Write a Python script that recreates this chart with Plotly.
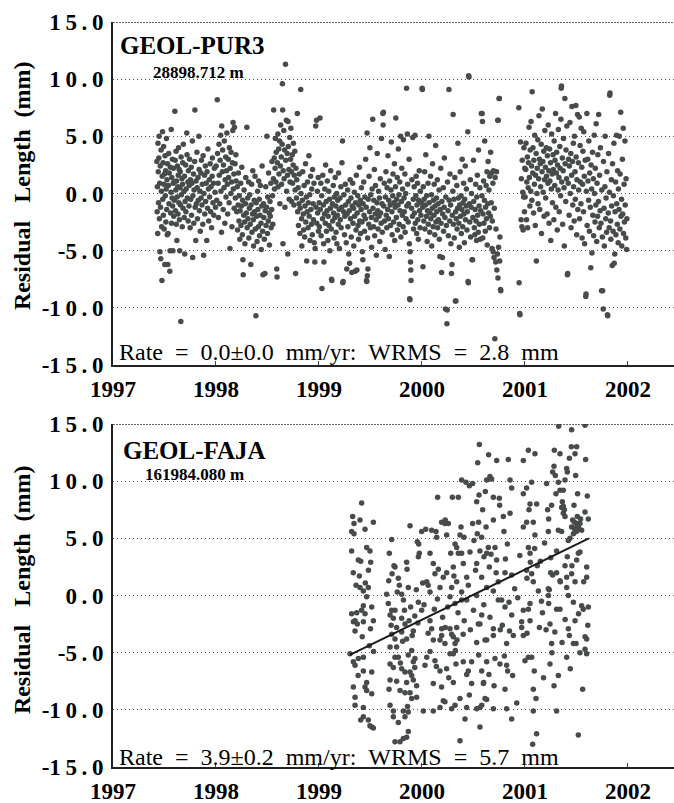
import plotly.graph_objects as go

# ---------------- data: GEOL-PUR3 (day-of-year, residual mm) ----------------
pur3_1997 = [
(156,2.8),(157,-1.6),(158,0.6),(159,-3.5),(160,4.4),(161,1.9),(162,-0.8),(163,3.1),(164,5.0),(165,-2.2),(166,0.9),(167,-5.1),(168,2.4),(169,-1.2),(170,-5.7),(171,3.8),(172,0.2),(173,-2.9),(174,-7.6),(175,1.5),(176,5.4),(177,-0.5),(178,2.7),(179,-1.9),(180,4.1),(181,0.8),(182,-3.1),(183,1.7),(184,-6.2),(185,3.3),(186,-0.2),(187,2.0),(188,-2.5),(189,0.4),(190,4.8),(191,-1.4),(192,1.2),(193,-3.6),(194,2.6),(195,-6.2),(196,-3.5),(197,0.7),(198,3.5),(199,-0.9),(200,1.8),(202,-6.8),(203,-5.0),(204,2.3),(205,-1.7),(206,0.1),(207,5.6),(208,-2.6),(209,1.4),(210,-0.4),(211,3.0),(212,-1.1),(213,-5.0),(214,0.9),(215,2.2),(216,-2.0),(217,1.0),(218,-0.6),(220,7.2),(221,2.9),(222,-1.5),(223,0.3),(224,3.7),(225,-2.7),(226,1.1),(227,-4.1),(228,-0.3),(229,2.4),(230,0.6),(231,-1.8),(232,1.6),(233,4.0),(234,-0.8),(235,2.1),(236,-2.3),(237,-5.0),(238,0.5),(239,1.9),(240,-1.0),(241,-11.2),(242,3.2),(243,-0.1),(245,1.3),(246,-2.9),(247,0.8),(248,2.7),(249,-1.3),(250,4.3),(252,0.2),(253,-2.1),(254,1.5),(255,-5.3),(256,-0.7),(258,2.5),(259,-1.6),(260,0.4),(262,5.3),(263,3.4),(264,-0.4),(266,1.0),(267,-2.4),(268,2.0),(270,-1.1),(271,0.7),(272,3.0),(274,-3.0),(275,1.2),(276,-0.5),(278,2.3),(279,-1.9),(280,0.9),(282,4.6),(283,-5.6),(284,-0.2),(286,1.7),(287,-2.6),(288,0.3),(290,2.8),(291,7.3),(292,-1.2),(294,-4.1),(295,1.1),(296,-0.9),(298,3.6),(299,0.5),(300,-2.2),(302,1.4),(303,-0.6),(305,5.0),(306,2.1),(307,-1.5),(309,0.2),(310,-3.3),(312,1.8),(313,-0.4),(314,2.9),(316,-1.0),(317,0.8),(319,-2.7),(320,3.3),(322,-5.4),(323,0.0),(325,1.6),(326,-1.8),(328,2.4),(329,-0.7),(331,0.9),(333,-4.1),(334,1.9),(336,-1.3),(337,3.9),(339,0.4),(340,-2.4),(342,1.2),(343,-0.3),(345,2.6),(347,-1.6),(348,0.6),(350,-3.0),(352,1.5),(353,3.1),(355,-0.8),(357,0.9),(358,-1.9),(360,2.2),(362,0.1),(364,-1.2),
]
pur3_1998 = [
(1,2.4),(3,-0.6),(5,8.2),(6,3.5),(8,0.9),(9,-2.1),(11,4.3),(12,1.6),(14,-0.9),(15,2.9),(17,5.1),(18,0.2),(20,-3.4),(21,5.9),(23,1.9),(24,3.8),(26,-1.4),(27,2.5),(29,0.5),(30,4.6),(32,-2.6),(33,1.2),(35,3.2),(36,-0.3),(38,2.0),(39,5.3),(41,0.8),(42,-1.8),(44,3.0),(45,1.4),(47,-0.8),(48,4.0),(50,-4.8),(51,2.2),(53,0.0),(54,3.6),(56,1.0),(57,-2.9),(59,2.7),(60,5.5),(61,6.2),(62,0.4),(64,1.7),(65,-1.3),(66,5.8),(68,2.6),(69,-0.4),(71,3.4),(72,1.1),(74,-1.6),(76,0.6),(77,-3.2),(79,-1.0),(80,1.8),(82,-2.4),(83,-0.2),(85,-4.0),(86,-1.5),(88,0.9),(89,-2.8),(91,-1.1),(92,2.3),(94,-3.6),(95,-0.6),(96,-5.8),(97,-7.1),(99,-1.9),(100,0.3),(102,-2.5),(103,-4.4),(105,-0.9),(106,1.4),(108,-1.7),(110,5.8),(111,-3.0),(113,-0.4),(114,-2.2),(116,1.0),(117,-3.9),(119,-1.3),(120,-0.1),(122,-2.7),(124,-6.2),(125,-1.0),(127,0.8),(128,-3.4),(130,-1.8),(131,2.0),(133,-2.3),(134,-4.6),(136,-0.6),(137,-1.6),(139,1.5),(140,-3.1),(142,-10.7),(143,-0.8),(145,-2.0),(146,-4.2),(148,0.2),(149,-1.4),(151,-2.9),(152,1.1),(154,-0.5),(155,-3.7),(157,-1.9),(158,0.7),(160,-2.6),(161,-4.9),(163,-1.1),(164,2.4),(166,-3.3),(167,-7.1),(169,-0.9),(170,-2.1),(172,-4.0),(174,-7.0),(175,-1.5),(177,0.6),(178,-2.8),(180,-1.2),(181,5.0),(183,-3.5),(184,-0.3),(186,-2.4),(187,1.8),(189,-1.7),(190,-4.5),(192,-0.7),(193,-2.0),(195,0.9),(196,-3.0),(198,-1.4),(199,2.8),(201,-0.2),(202,-2.7),(204,1.3),(205,7.3),(207,3.1),(208,0.4),(210,2.2),(211,4.8),(213,1.0),(214,3.6),(216,-6.6),(217,-7.3),(218,2.7),(220,5.2),(221,0.6),(223,3.9),(224,1.7),(226,4.6),(227,-0.9),(229,2.4),(230,6.0),(232,3.2),(233,0.8),(235,4.3),(236,9.6),(237,7.3),(238,-4.4),(239,2.0),(241,5.5),(242,1.3),(244,3.8),(245,-1.2),(247,11.3),(248,2.9),(250,6.4),(251,0.2),(253,3.5),(254,1.6),(255,-5.3),(256,6.3),(257,4.1),(259,2.1),(260,-0.5),(262,4.9),(263,1.0),(265,3.0),(266,5.7),(268,1.9),(269,-0.7),(271,3.4),(272,0.9),(274,2.5),(275,4.4),(277,-1.0),(278,1.6),(280,3.7),(281,0.3),(283,-7.0),(284,2.2),(286,-0.4),(287,1.2),(289,7.0),(290,-1.6),(292,0.5),(293,-2.8),(295,-0.9),(296,1.7),(298,-3.5),(299,-1.3),(301,9.1),(302,0.0),(304,-2.2),(305,-4.6),(307,-0.6),(308,1.9),(310,-1.8),(311,-3.2),(313,0.7),(315,-3.8),(316,-1.1),(318,2.6),(319,-2.5),(321,-0.3),(322,-5.9),(324,-1.6),(325,1.0),(327,-3.0),(328,-0.8),(330,3.3),(331,-2.0),(333,-0.1),(334,-4.1),(336,1.5),(337,-1.4),(339,-2.7),(340,0.4),(342,-3.6),(343,2.1),(345,-0.9),(346,-2.3),(348,0.9),(349,-4.3),(351,-6.0),(352,-4.8),(354,5.9),(355,-1.2),(357,6.4),(358,-2.6),(360,0.2),(361,-1.7),(363,1.4),(364,-3.3),
]
pur3_1999 = [
(1,-0.8),(2,-2.9),(4,6.6),(5,-1.4),(7,0.9),(8,-3.7),(10,-0.2),(11,-8.3),(13,-2.2),(14,1.6),(16,-1.0),(17,-4.4),(18,-6.0),(20,-1.8),(21,0.4),(23,-2.6),(24,2.5),(26,-0.7),(27,-3.3),(29,-1.5),(30,1.1),(32,-4.1),(33,-2.0),(35,0.2),(36,-2.8),(38,-0.5),(39,-5.0),(41,-1.3),(42,2.0),(44,-3.1),(45,-7.5),(46,-7.6),(48,-0.9),(49,-2.4),(51,0.7),(52,-1.7),(54,-3.9),(55,-0.3),(57,-2.1),(58,1.4),(60,-1.1),(61,-3.4),(63,0.0),(64,-4.4),(66,-1.9),(67,-0.6),(69,-2.7),(70,1.8),(72,-1.4),(73,-4.8),(75,-0.4),(76,-2.3),(78,0.6),(79,-3.0),(81,-1.2),(82,2.7),(84,4.6),(85,-7.8),(86,-7.7),(88,-1.6),(89,-0.1),(91,-3.6),(92,-2.0),(94,0.8),(95,-1.0),(97,-4.3),(99,-6.6),(100,-1.8),(102,0.3),(103,-2.9),(105,-0.7),(106,-5.3),(108,-1.5),(109,-6.1),(111,1.2),(112,-2.2),(114,-0.4),(115,-3.8),(117,-6.9),(118,-1.1),(120,0.9),(121,-2.6),(123,-1.3),(124,-4.6),(126,0.1),(127,-2.0),(129,-6.8),(130,-0.8),(132,-3.2),(133,1.6),(135,-6.7),(136,-1.7),(138,-0.2),(139,-2.8),(141,-4.0),(142,-1.0),(144,2.3),(145,-2.4),(147,-0.6),(148,-3.5),(150,-1.4),(151,0.5),(153,-2.5),(154,-5.1),(156,-5.8),(157,-0.9),(159,1.0),(160,-1.9),(162,-3.3),(163,-0.3),(165,-2.2),(166,3.0),(168,-1.2),(169,-7.6),(170,-7.7),(171,5.3),(172,-7.2),(173,-3.9),(174,-6.6),(175,-0.5),(177,-2.7),(178,1.5),(180,-1.6),(181,4.0),(183,-3.0),(184,-0.1),(186,-2.1),(187,-4.7),(189,0.4),(191,6.5),(192,-1.3),(194,-2.9),(195,-0.6),(197,2.1),(198,-3.7),(200,-1.8),(201,0.7),(203,-2.3),(204,-5.4),(206,-0.8),(207,3.5),(209,-1.5),(210,-3.1),(212,0.2),(213,-2.0),(215,-0.4),(216,-4.2),(218,1.3),(219,-1.7),(221,-2.6),(222,4.8),(224,-0.9),(225,-3.4),(227,7.0),(228,6.0),(229,7.1),(230,-1.1),(232,0.9),(233,-2.4),(235,-4.9),(236,-0.3),(238,1.9),(239,-1.9),(241,-3.0),(242,0.5),(244,-1.4),(245,3.3),(247,-2.2),(248,-0.6),(250,-5.5),(251,1.1),(253,-1.0),(254,-2.8),(256,0.3),(257,4.5),(259,-1.6),(260,-3.6),(262,-0.2),(263,1.7),(265,-2.5),(266,-0.8),(268,2.6),(269,-4.1),(271,-1.2),(272,0.6),(273,6.6),(275,-2.1),(276,-0.5),(278,1.4),(279,-3.2),(281,-1.0),(282,3.9),(284,-0.1),(285,-2.7),(287,1.0),(288,-1.5),(290,5.0),(291,-3.8),(293,-0.7),(294,2.2),(296,-1.9),(297,0.4),(299,-2.9),(300,4.7),(302,-0.4),(303,-1.6),(305,1.7),(306,-3.4),(308,0.0),(309,-2.2),(311,9.2),(312,-1.1),(314,5.2),(315,0.8),(317,-2.5),(318,-0.9),(320,3.0),(321,-4.4),(322,-9.2),(323,-9.3),(324,-5.1),(325,-6.0),(326,-6.7),(327,-7.6),(329,-1.3),(330,1.2),(332,-2.0),(333,4.9),(335,-0.5),(336,-3.1),(338,0.6),(339,-1.7),(341,5.1),(342,-2.6),(344,-0.2),(345,1.5),(347,-3.5),(348,-1.0),(350,0.9),(351,-2.3),(353,-4.0),(354,-0.6),(356,2.0),(357,-1.5),(359,-3.0),(360,0.2),(362,-1.9),(363,-0.8),
]
pur3_2000 = [
(1,9.2),(2,9.1),(3,-1.2),(4,-6.4),(5,0.6),(7,-2.4),(8,-0.5),(10,1.9),(11,-3.1),(13,-1.0),(14,3.4),(16,-2.0),(17,-0.2),(19,-4.2),(20,-1.5),(22,0.9),(23,-2.7),(25,5.0),(26,-0.8),(28,-3.4),(29,-1.7),(31,1.5),(32,-2.2),(34,-0.1),(35,-4.6),(37,-1.3),(38,2.6),(40,-2.9),(41,-0.6),(43,-1.9),(44,0.8),(46,-3.6),(47,-1.1),(49,4.2),(50,-2.5),(52,-0.4),(53,-1.6),(55,1.2),(56,-3.0),(58,-0.9),(59,-2.3),(61,0.3),(62,-4.0),(64,-5.5),(65,-1.4),(67,2.2),(68,-2.6),(70,-6.9),(71,-0.7),(73,-5.6),(74,-1.8),(76,0.5),(77,-3.3),(79,-1.2),(80,3.1),(82,-2.1),(84,-10.1),(85,-0.3),(87,-2.8),(89,-11.4),(90,-10.2),(91,1.0),(93,-1.5),(94,-3.7),(96,9.1),(97,-0.6),(99,-2.4),(100,1.7),(102,-1.0),(103,-4.4),(105,-7.0),(107,-6.2),(108,-1.9),(110,0.2),(111,6.9),(112,-2.7),(114,-0.5),(115,-3.9),(117,1.4),(119,-9.4),(120,-1.6),(121,-9.4),(122,-2.2),(124,0.7),(125,-3.1),(127,-1.3),(128,4.4),(130,-0.4),(131,-2.6),(133,-4.7),(134,-1.0),(136,1.9),(137,-2.0),(139,-0.2),(140,-3.5),(142,-1.4),(143,3.0),(145,-2.9),(146,-0.8),(148,0.9),(149,-1.8),(151,-4.3),(152,-0.5),(154,2.4),(155,-2.3),(157,-1.1),(158,0.4),(160,-3.2),(161,-1.6),(163,5.4),(164,-7.7),(165,-7.8),(166,10.3),(167,10.2),(169,-0.9),(170,-2.5),(172,1.2),(173,-3.8),(175,-1.2),(176,0.0),(178,-5.8),(180,-5.8),(181,-2.1),(183,2.9),(184,-0.7),(186,-3.0),(188,-3.6),(189,-1.4),(191,0.8),(192,-2.4),(194,-4.1),(195,-0.3),(197,1.6),(198,-1.9),(200,-3.4),(201,3.8),(203,-1.1),(204,-2.7),(206,0.5),(207,-4.0),(209,-1.5),(211,7.0),(213,-0.2),(214,7.0),(215,6.3),(216,-3.9),(217,-1.8),(219,1.1),(220,-2.6),(222,-0.6),(223,4.6),(225,-3.3),(226,-1.2),(228,0.7),(229,-2.2),(231,1.9),(232,-4.5),(234,-0.9),(235,2.8),(237,-1.7),(238,0.3),(240,-3.0),(241,1.5),(243,-2.0),(244,3.6),(246,-0.8),(247,1.8),(249,-4.8),(250,-2.4),(252,0.9),(253,-5.1),(254,2.0),(256,-5.6),(257,-1.3),(259,-12.7),(260,1.4),(262,-6.0),(263,-3.1),(265,1.9),(266,-6.7),(268,-5.3),(269,6.4),(270,-7.4),(271,6.4),(272,-4.7),(274,8.3),(275,8.3),(276,-5.9),(277,-3.8),(279,-8.4),(280,-8.5),(344,7.5),(345,-7.8),(347,-10.5),(348,-10.6),(350,4.5),(352,-2.3),(353,1.3),(355,-2.9),(356,2.9),(358,0.1),(359,-3.2),(361,-0.3),(362,4.0),(364,-1.6),(365,2.2),
]
pur3_2001 = [
(1,-0.3),(3,2.1),(4,4.4),(6,-2.3),(7,1.0),(9,3.2),(10,-3.0),(12,0.5),(13,2.7),(15,5.8),(16,1.4),(18,-1.1),(19,3.8),(21,0.2),(22,6.3),(24,2.4),(25,-0.6),(26,8.9),(28,1.8),(29,4.0),(31,-1.7),(32,2.9),(34,0.8),(35,5.1),(37,-2.8),(38,1.6),(40,3.5),(41,-5.9),(43,0.0),(44,2.2),(46,4.7),(47,-0.9),(49,1.3),(50,6.8),(52,3.0),(53,-1.4),(55,2.6),(56,0.6),(58,4.3),(59,-3.5),(61,1.9),(62,7.4),(64,2.8),(65,0.1),(67,3.7),(68,-2.0),(70,1.2),(71,5.5),(73,2.3),(74,-0.4),(76,4.0),(77,1.5),(79,-1.8),(80,3.3),(82,0.9),(83,6.0),(85,2.0),(86,-2.6),(88,3.9),(89,1.1),(91,2.7),(92,-4.1),(94,0.4),(95,5.2),(97,1.7),(98,-0.8),(100,3.4),(101,2.1),(103,-2.3),(104,4.6),(106,0.7),(107,2.9),(109,7.0),(110,-1.2),(112,1.8),(113,3.6),(115,-3.2),(116,2.5),(118,0.3),(119,5.6),(121,1.4),(122,-1.6),(124,4.1),(125,2.2),(127,-0.2),(128,6.5),(129,9.2),(130,9.4),(131,1.0),(133,3.1),(134,-2.7),(136,2.0),(137,4.8),(139,0.5),(140,-4.6),(142,8.3),(143,2.6),(145,-0.7),(146,3.8),(148,1.3),(149,5.9),(151,-7.1),(152,-7.0),(154,0.9),(155,3.0),(157,-1.9),(158,2.4),(160,6.2),(161,0.0),(163,3.5),(164,-3.0),(166,1.6),(167,7.6),(169,2.8),(170,-1.0),(172,4.4),(173,0.6),(175,-2.4),(176,5.0),(178,1.9),(179,-0.5),(181,7.7),(182,3.2),(184,-3.6),(185,1.2),(187,6.9),(188,-1.4),(190,2.7),(191,0.3),(193,6.7),(194,-2.2),(196,4.2),(197,1.0),(199,-0.9),(200,5.7),(202,2.3),(203,-3.9),(205,0.8),(206,3.7),(208,-1.6),(209,5.4),(211,1.5),(212,-4.4),(214,2.9),(216,-9.0),(217,-8.8),(218,0.2),(220,7.0),(221,-2.8),(223,3.0),(224,1.1),(226,-0.6),(227,4.6),(229,-3.3),(230,1.8),(232,-1.2),(234,-6.5),(235,2.5),(237,0.4),(238,-5.2),(240,3.6),(241,-1.9),(243,1.3),(244,-3.7),(246,5.1),(247,0.0),(249,-2.5),(250,2.2),(252,-1.0),(253,6.1),(255,-4.2),(256,0.9),(258,-2.0),(259,3.4),(261,-0.7),(262,6.9),(264,-3.0),(265,1.6),(267,-1.5),(268,4.0),(270,-2.6),(272,-8.5),(273,0.3),(275,-3.8),(276,-8.5),(278,-10.1),(279,2.8),(281,-1.3),(282,-4.6),(284,0.6),(285,5.0),(287,-2.2),(288,-0.4),(290,-3.4),(291,1.9),(293,-10.6),(294,-10.7),(296,-1.7),(297,3.5),(299,-3.0),(300,0.1),(301,8.6),(302,8.8),(304,-2.4),(305,-4.0),(307,1.2),(308,-1.1),(310,-6.3),(311,2.6),(313,-3.3),(314,-0.2),(316,4.4),(317,-6.1),(319,-5.3),(320,-1.6),(322,1.0),(323,-3.6),(325,5.1),(326,-0.9),(328,-2.7),(329,2.0),(331,-4.3),(332,0.4),(334,-1.4),(335,5.0),(337,-3.1),(338,1.7),(340,7.1),(341,-2.0),(343,-0.5),(344,-4.6),(346,3.0),(347,-1.8),(349,5.7),(350,-3.5),(352,0.8),(353,-2.5),(355,4.6),(356,-1.0),(358,-3.9),(359,1.3),(361,-4.9),(362,-2.2),
]

# ---------------- data: GEOL-FAJA (decimal year, residual mm) ----------------
faja_1999 = [
(1999.414,8.1),(1999.327,6.9),(1999.398,6.6),(1999.528,6.4),(1999.340,6.3),(1999.447,5.8),(1999.317,5.6),(1999.340,5.4),(1999.463,4.2),(1999.317,3.9),(1999.495,3.9),(1999.382,3.1),(1999.405,3.0),(1999.502,2.9),(1999.333,2.0),(1999.392,1.7),(1999.398,0.7),(1999.479,0.7),(1999.431,0.4),
(1999.706,4.9),(1999.683,3.7),(1999.728,2.6),(1999.738,2.5),(1999.770,1.5),(1999.677,1.3),(1999.851,2.9),(1999.855,2.3),(1999.884,6.1),(1999.867,0.7),(1999.803,0.1),
(1999.955,4.7),(1999.968,4.5),(1999.974,3.7),(1999.965,3.4),(1999.997,5.6),
(1999.463,-0.1),(1999.431,-0.9),(1999.512,-1.0),(1999.366,-1.5),(1999.447,-1.6),(1999.350,-2.2),(1999.528,-2.2),(1999.334,-2.3),(1999.431,-2.3),(1999.350,-3.1),(1999.489,-4.4),(1999.301,-5.1),(1999.431,-5.4),(1999.382,-5.5),(1999.334,-5.8),(1999.350,-6.1),(1999.431,-6.6),(1999.512,-6.7),(1999.463,-7.6),(1999.334,-8.0),(1999.447,-8.0),(1999.463,-8.3),(1999.512,-8.6),(1999.350,-8.9),(1999.350,-9.6),(1999.431,-9.8),(1999.431,-10.6),(1999.405,-10.9),(1999.479,-10.9),(1999.495,-11.4),(1999.512,-11.5),(1999.528,-11.6),(1999.317,-1.6),(1999.372,-2.5),(1999.414,-1.3),
(1999.657,0.1),(1999.673,-0.7),(1999.706,-1.3),(1999.738,-1.3),(1999.690,-1.7),(1999.722,-2.0),(1999.803,-2.0),(1999.835,-2.5),(1999.706,-3.4),(1999.738,-3.8),(1999.851,-3.8),(1999.690,-4.5),(1999.754,-4.5),(1999.900,-4.8),(1999.738,-5.4),(1999.770,-5.4),(1999.932,-5.5),(1999.916,-5.8),(1999.690,-6.0),(1999.803,-6.4),(1999.835,-6.7),(1999.884,-6.7),(1999.900,-7.0),(1999.690,-7.4),(1999.916,-7.4),(1999.948,-7.9),(1999.787,-8.3),(1999.835,-8.5),(1999.884,-8.5),(1999.948,-8.9),(1999.900,-9.0),(1999.690,-9.6),(1999.722,-10.1),(1999.819,-10.1),(1999.867,-10.2),(1999.722,-10.6),(1999.835,-10.6),(1999.770,-11.1),(1999.867,-11.9),(1999.819,-12.5),(1999.738,-12.8),(1999.787,-12.8),(1999.851,-12.4),(1999.754,-2.8),(1999.803,-3.2),(1999.916,-3.1),(1999.867,-5.2),(1999.722,-6.3),(1999.851,-7.6),(1999.754,-7.5),(1999.965,-0.6),(1999.997,-1.3),
(1999.780,0.9),(1999.820,-0.4),(1999.760,0.3),(1999.890,-1.0),(1999.930,-1.8),(1999.945,0.5),(1999.700,-2.6),(1999.812,-4.0),(1999.875,-2.2),(1999.905,-3.5),
(1999.360,0.9),(1999.420,-3.6),(1999.480,2.2),(1999.530,-4.9),(1999.380,-7.0),(1999.450,1.1),(1999.500,-2.9),
(1999.680,-8.2),(1999.790,-5.9),(1999.860,-9.7),(1999.930,-6.3),(1999.960,-2.4),(1999.710,1.9),(1999.830,-1.3),
]
faja_2000 = [
(2000.007,1.1),(2000.036,5.8),(2000.094,5.7),(2000.136,5.6),(2000.143,5.1),(2000.152,8.6),(2000.191,6.4),(2000.223,6.3),(2000.078,3.7),(2000.110,2.8),(2000.159,2.3),(2000.126,1.9),(2000.207,1.6),(2000.046,1.2),(2000.175,0.7),(2000.078,0.3),
(2000.295,8.6),(2000.353,8.6),(2000.385,10.1),(2000.427,9.9),(2000.460,9.6),(2000.492,9.8),(2000.226,6.6),(2000.256,6.3),(2000.379,6.0),(2000.240,5.3),(2000.369,5.3),(2000.408,5.1),(2000.321,4.5),(2000.337,4.2),(2000.279,3.7),(2000.353,3.7),(2000.385,3.7),(2000.466,3.8),(2000.401,2.8),(2000.304,2.5),(2000.240,2.0),(2000.434,1.6),(2000.337,1.2),(2000.288,0.7),(2000.385,0.3),
(2000.557,13.2),(2000.647,12.3),(2000.725,11.8),(2000.541,11.6),(2000.838,11.9),(2000.660,10.4),(2000.676,10.2),(2000.628,10.1),(2000.855,10.1),(2000.871,9.4),(2000.615,9.1),(2000.554,8.8),(2000.693,8.6),(2000.751,8.5),(2000.531,8.2),(2000.754,7.9),(2000.589,7.5),(2000.855,7.2),(2000.790,6.9),(2000.693,6.6),(2000.550,6.4),(2000.492,6.3),(2000.622,6.0),(2000.796,5.6),(2000.537,5.4),(2000.579,5.1),(2000.505,4.8),(2000.829,4.5),(2000.644,4.2),(2000.709,4.2),(2000.563,3.9),(2000.628,3.7),(2000.670,3.6),(2000.602,3.4),(2000.725,3.1),(2000.531,2.8),(2000.654,2.5),(2000.806,2.0),(2000.871,1.8),(2000.579,1.6),(2000.741,1.2),(2000.628,0.7),(2000.693,0.4),(2000.531,0.0),
(2000.984,11.8),(2000.984,8.9),(2000.984,6.0),
(2000.078,-2.2),(2000.094,-2.9),(2000.191,-2.9),(2000.191,-3.5),(2000.110,-3.9),(2000.175,-3.9),(2000.223,-4.2),(2000.078,-4.9),(2000.046,-5.4),(2000.126,-5.7),(2000.029,-6.1),(2000.175,-6.6),(2000.110,-7.7),(2000.207,-9.2),(2000.223,-9.3),(2000.175,-9.8),(2000.013,-10.1),(2000.110,-10.1),
(2000.272,-0.1),(2000.385,-0.4),(2000.434,-0.4),(2000.321,-0.7),(2000.580,-1.7),(2000.226,-2.8),(2000.337,-2.8),(2000.272,-2.9),(2000.288,-3.4),(2000.304,-3.6),(2000.340,-3.9),(2000.321,-4.2),(2000.324,-4.8),(2000.304,-5.1),(2000.272,-5.1),(2000.401,-5.8),(2000.482,-5.8),(2000.450,-6.6),(2000.580,-6.6),(2000.239,-6.4),(2000.304,-7.6),(2000.482,-7.7),(2000.596,-7.7),(2000.434,-6.9),(2000.369,-9.0),(2000.321,-9.6),(2000.434,-9.8),(2000.288,-9.9),(2000.531,-9.9),(2000.418,-10.8),(2000.563,-11.5),(2000.369,-12.7),
(2000.547,-2.5),(2000.563,-2.5),(2000.693,-2.9),(2000.693,-3.5),(2000.612,-3.9),(2000.628,-3.9),(2000.531,-4.1),(2000.709,-5.5),(2000.757,-6.0),(2000.822,-6.1),(2000.832,-6.6),(2000.628,-5.8),(2000.822,-4.2),(2000.599,-7.6),(2000.806,-8.2),(2000.612,-9.0),(2000.628,-9.1),(2000.580,-9.6),(2000.693,-9.9),(2000.822,-9.9),(2000.563,-9.8),(2000.871,-10.8),(2000.741,-0.4),(2000.774,-0.4),(2000.806,-1.0),(2000.845,-0.6),(2000.871,-1.7),
(2000.984,-1.3),(2000.968,-2.3),(2000.968,-2.8),(2000.887,-3.5),(2000.984,-3.5),
(2000.020,-0.8),(2000.060,0.9),(2000.120,-1.2),(2000.150,-0.3),(2000.200,-1.9),(2000.250,-1.0),(2000.310,1.7),(2000.350,-1.5),(2000.410,-2.2),(2000.450,0.9),(2000.470,-3.0),(2000.500,-1.3),(2000.520,2.2),(2000.600,-0.8),(2000.660,-1.9),(2000.720,2.0),(2000.780,-2.6),(2000.810,3.2),(2000.850,-3.1),(2000.900,0.6),(2000.930,-0.2),(2000.950,3.5),
(2000.060,-3.3),(2000.140,-6.2),(2000.190,-8.0),(2000.260,-7.2),(2000.330,-6.0),(2000.400,-3.4),(2000.460,-8.7),(2000.550,-5.2),(2000.650,-6.9),(2000.700,-7.9),(2000.760,-3.0),(2000.800,-5.3),(2000.880,-7.0),(2000.920,-9.4),
]
faja_2001 = [
(2001.033,12.7),(2001.097,12.4),(2001.065,9.9),(2001.016,9.4),(2001.049,8.0),(2001.113,8.0),(2001.039,7.5),(2001.016,6.4),(2001.081,6.4),(2001.097,5.3),(2001.033,4.2),(2001.094,4.1),(2001.049,3.7),(2001.052,2.9),(2001.016,2.2),(2001.065,1.9),(2001.019,1.5),(2001.081,1.2),(2001.227,0.6),(2001.130,0.4),(2001.220,7.5),(2001.230,6.7),(2001.227,5.6),(2001.259,7.9),(2001.285,12.7),(2001.340,12.4),(2001.282,11.3),(2001.269,10.8),(2001.295,10.5),(2001.324,9.9),(2001.340,9.2),(2001.372,9.2),(2001.301,8.9),(2001.356,7.7),(2001.372,7.2),(2001.324,5.7),(2001.356,5.6),(2001.307,3.9),(2001.249,2.0),(2001.307,2.0),(2001.269,1.8),(2001.340,1.3),(2001.236,0.5),
(2001.327,14.8),(2001.453,14.5),(2001.583,14.9),(2001.450,13.0),(2001.502,13.0),(2001.486,12.4),(2001.431,12.0),(2001.589,11.9),(2001.405,11.1),(2001.411,10.8),(2001.492,10.5),(2001.389,10.1),(2001.511,8.9),(2001.605,8.7),(2001.476,7.9),(2001.583,7.3),(2001.615,6.7),(2001.502,6.3),(2001.534,6.3),(2001.453,6.0),(2001.518,6.0),(2001.486,5.7),(2001.437,5.0),(2001.421,4.8),(2001.534,3.8),(2001.518,3.7),(2001.411,3.4),(2001.502,3.1),(2001.389,2.6),(2001.456,2.6),(2001.599,2.5),(2001.453,1.9),(2001.599,1.6),(2001.405,1.6),(2001.343,1.2),(2001.486,1.2),(2001.405,0.7),
(2001.463,6.6),(2001.480,6.4),(2001.515,6.1),(2001.528,5.8),(2001.499,5.6),(2001.540,6.7),(2001.470,5.4),(2001.550,5.7),(2001.508,6.9),(2001.489,5.9),(2001.363,8.2),(2001.372,7.8),(2001.389,6.9),(2001.382,7.5),
(2001.049,-0.7),(2001.033,-1.2),(2001.049,-2.2),(2001.033,-5.4),(2001.065,-5.4),(2001.000,-5.7),(2001.081,-8.2),(2001.107,-9.0),(2001.081,-10.1),(2001.113,-12.1),(2001.075,-13.0),(2001.227,0.0),(2001.230,-0.7),(2001.307,-1.2),(2001.340,-1.2),(2001.243,-2.5),(2001.259,-4.2),(2001.262,-5.0),(2001.243,-6.0),(2001.324,-7.0),(2001.282,-7.9),(2001.307,-10.1),
(2001.421,0.0),(2001.550,-0.9),(2001.615,-1.0),(2001.566,-1.2),(2001.486,-2.2),(2001.421,-2.9),(2001.431,-3.5),(2001.583,-3.6),(2001.599,-3.8),(2001.470,-4.2),(2001.496,-4.2),(2001.583,-4.7),(2001.534,-5.0),(2001.599,-5.1),(2001.405,-5.4),(2001.560,-8.2),(2001.518,-12.2),
(2001.150,3.0),(2001.170,-1.5),(2001.190,4.6),(2001.205,-3.0),(2001.210,9.8),(2001.160,-0.5),(2001.120,2.6),(2001.140,-2.8),
(2001.020,-3.3),(2001.090,-6.6),(2001.180,-7.2),(2001.250,3.3),(2001.290,-3.2),(2001.360,-4.1),(2001.440,-6.4),(2001.520,-1.6),(2001.570,1.2),(2001.610,-2.6),(2001.470,-0.6),(2001.390,-2.1),
]
faja_trend_t = [1999.30, 2001.62]
faja_trend_r = [-5.2, 5.0]

year_ticks = [1997, 1998, 1999, 2000, 2001, 2002]
y_ticks = [-15, -10, -5, 0, 5, 10, 15]

# ---------------- assemble ----------------
def doy_series(year_lists):
    t, r = [], []
    for yr, pairs in year_lists:
        for d, v in pairs:
            t.append(yr + (d - 0.5) / 365.25)
            r.append(v)
    return t, r

pur3_t, pur3_r = doy_series([(1997, pur3_1997), (1998, pur3_1998), (1999, pur3_1999),
                             (2000, pur3_2000), (2001, pur3_2001)])
faja_all = faja_1999 + faja_2000 + faja_2001
faja_t = [p[0] for p in faja_all]
faja_r = [p[1] for p in faja_all]

SERIF = "Liberation Serif"
DOT = "#474c4a"
TS = "\u2009"

def spaced(v):
    s = f"{abs(v):.1f}"
    body = TS.join(list(s))
    return ("-" + body) if v < 0 else body

ytext = [spaced(v) for v in y_ticks]

fig = go.Figure()
fig.add_trace(go.Scatter(x=pur3_t, y=pur3_r, mode="markers",
                         marker=dict(size=5.5, color=DOT), xaxis="x", yaxis="y"))
fig.add_trace(go.Scatter(x=faja_t, y=faja_r, mode="markers",
                         marker=dict(size=5.5, color=DOT), xaxis="x2", yaxis="y2"))
fig.add_trace(go.Scatter(x=faja_trend_t, y=faja_trend_r, mode="lines",
                         line=dict(color="#1b1b1b", width=2), xaxis="x2", yaxis="y2"))

xr = [1997, 2002.447]
xcommon = dict(range=xr, tickvals=year_ticks, ticktext=[f"<b>{y}</b>" for y in year_ticks],
               tickfont=dict(family=SERIF, size=23, color="black"),
               showline=True, linewidth=2, linecolor="#222", ticks="inside", ticklen=4,
               tickwidth=1, tickcolor="#444", showgrid=False, zeroline=False,
               ticklabelstandoff=2)
ycommon = dict(range=[-15, 15], tickvals=y_ticks, ticktext=[f"<b>{t}</b>" for t in ytext],
               tickfont=dict(family=SERIF, size=23, color="black"),
               showline=True, linewidth=2, linecolor="#222", ticks="", showgrid=True,
               gridcolor="#555", gridwidth=1, griddash="1px,3px", zeroline=False,
               ticklabelstandoff=3)

fig.update_layout(
    width=674, height=803,
    margin=dict(l=113, r=0, t=22, b=36),
    plot_bgcolor="white", paper_bgcolor="white", showlegend=False,
    font=dict(family=SERIF),
    xaxis=dict(domain=[0, 1], anchor="y", **xcommon),
    yaxis=dict(domain=[0.5396, 1], anchor="x", **ycommon),
    xaxis2=dict(domain=[0, 1], anchor="y2", **xcommon),
    yaxis2=dict(domain=[0, 0.4604], anchor="x2", **ycommon),
)

for yref in ("y", "y2"):
    fig.add_shape(type="line", xref="x domain" if yref == "y" else "x2 domain", yref=yref,
                  x0=0, x1=1, y0=15, y1=15, line=dict(color="#333", width=1.5, dash="2px,1px"))

NB = "\u00a0"
def ann(text, x, y, size, bold=True, **kw):
    fig.add_annotation(text=f"<b>{text}</b>" if bold else text, x=x, y=y,
                       xref="paper", yref="paper", showarrow=False,
                       xanchor=kw.pop("xanchor", "left"), yanchor="middle",
                       borderpad=0,
                       font=dict(family=SERIF, size=size, color="black"), **kw)

def py(p):
    return (767 - p) / 745

G = NB * 2
ann("GEOL-PUR3", 0.0107, py(46), 25)
ann("28898.712 m", 0.0695, py(72), 17)
ann(f"Rate{G}={G}0.0±0.0{G}mm/yr:{G}WRMS{G}={G}2.8{G}mm", 0.0089, py(352), 24, bold=False)
ann("GEOL-FAJA", 0.016, py(450), 25)
ann("161984.080 m", 0.0553, py(475), 17)
ann(f"Rate{G}={G}3.9±0.2{G}mm/yr:{G}WRMS{G}={G}5.7{G}mm", 0.0089, py(757), 24, bold=False)
ytitle = f"Residual{NB*3}Length{NB*2}(mm)"
ann(ytitle, -0.162, py(186), 24, textangle=-90, xanchor="center")
ann(ytitle, -0.162, py(590), 24, textangle=-90, xanchor="center")

fig.write_html("out.html")
